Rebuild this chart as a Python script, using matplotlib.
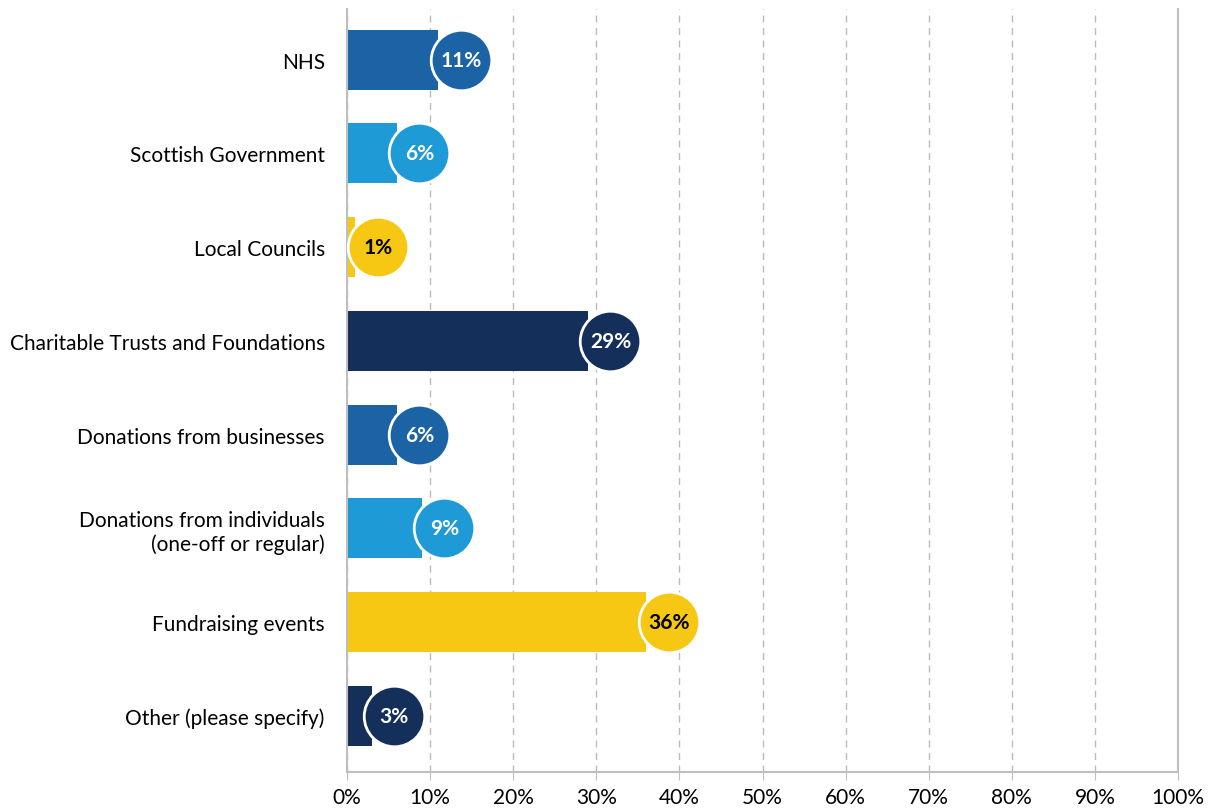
import matplotlib.pyplot as plt
import numpy as np

# Funding sources and share of respondents
sources = ['NHS', 'Scottish Government', 'Local Councils',
           'Charitable Trusts and Foundations', 'Donations from businesses',
           'Donations from individuals\n(one-off or regular)',
           'Fundraising events', 'Other (please specify)']
shares = [11, 6, 1, 29, 6, 9, 36, 3]

blue = '#1B63A5'
light = '#1E9AD6'
yellow = '#F6C713'
navy = '#14305A'
bar_colors = [blue, light, yellow, navy, blue, light, yellow, navy]
text_colors = ['white', 'white', 'black', 'white', 'white', 'white', 'black', 'white']

plt.rcParams['font.family'] = ['Lato', 'DejaVu Sans']

fig = plt.figure(figsize=(12.12, 8.12), dpi=100)
ax = fig.add_axes([347 / 1212, 1 - 773 / 812, 831 / 1212, 763 / 812])

y = np.arange(len(sources))
ax.barh(y, shares, height=0.64, color=bar_colors, zorder=2)

# value bubbles just past the end of each bar
for yi, v, c, tc in zip(y, shares, bar_colors, text_colors):
    cx = v + 2.7
    ax.scatter(cx, yi, s=1900, color=c, edgecolor='white', linewidth=2, zorder=3)
    ax.text(cx, yi, f'{v}%', ha='center', va='center', color=tc,
            fontsize=15, fontweight='bold', zorder=4)

ax.set_xlim(0, 100)
ax.set_ylim(7.6, -0.54)
ax.set_xticks(np.arange(0, 101, 10))
ax.set_xticklabels([f'{t}%' for t in range(0, 101, 10)], fontsize=15)
ax.set_yticks(y)
ax.set_yticklabels(sources, fontsize=15)
ax.tick_params(axis='y', length=0, pad=16)
ax.tick_params(axis='x', length=6, color='#BFBFBF', pad=5)

ax.grid(axis='x', linestyle=(0, (5, 4)), color='#BBBBBB', linewidth=1, zorder=0)
for side in ['left', 'right', 'bottom']:
    ax.spines[side].set_color('#BFBFBF')
    ax.spines[side].set_linewidth(1.5)
ax.spines['top'].set_visible(False)

fig.savefig('out.png', dpi=100)
